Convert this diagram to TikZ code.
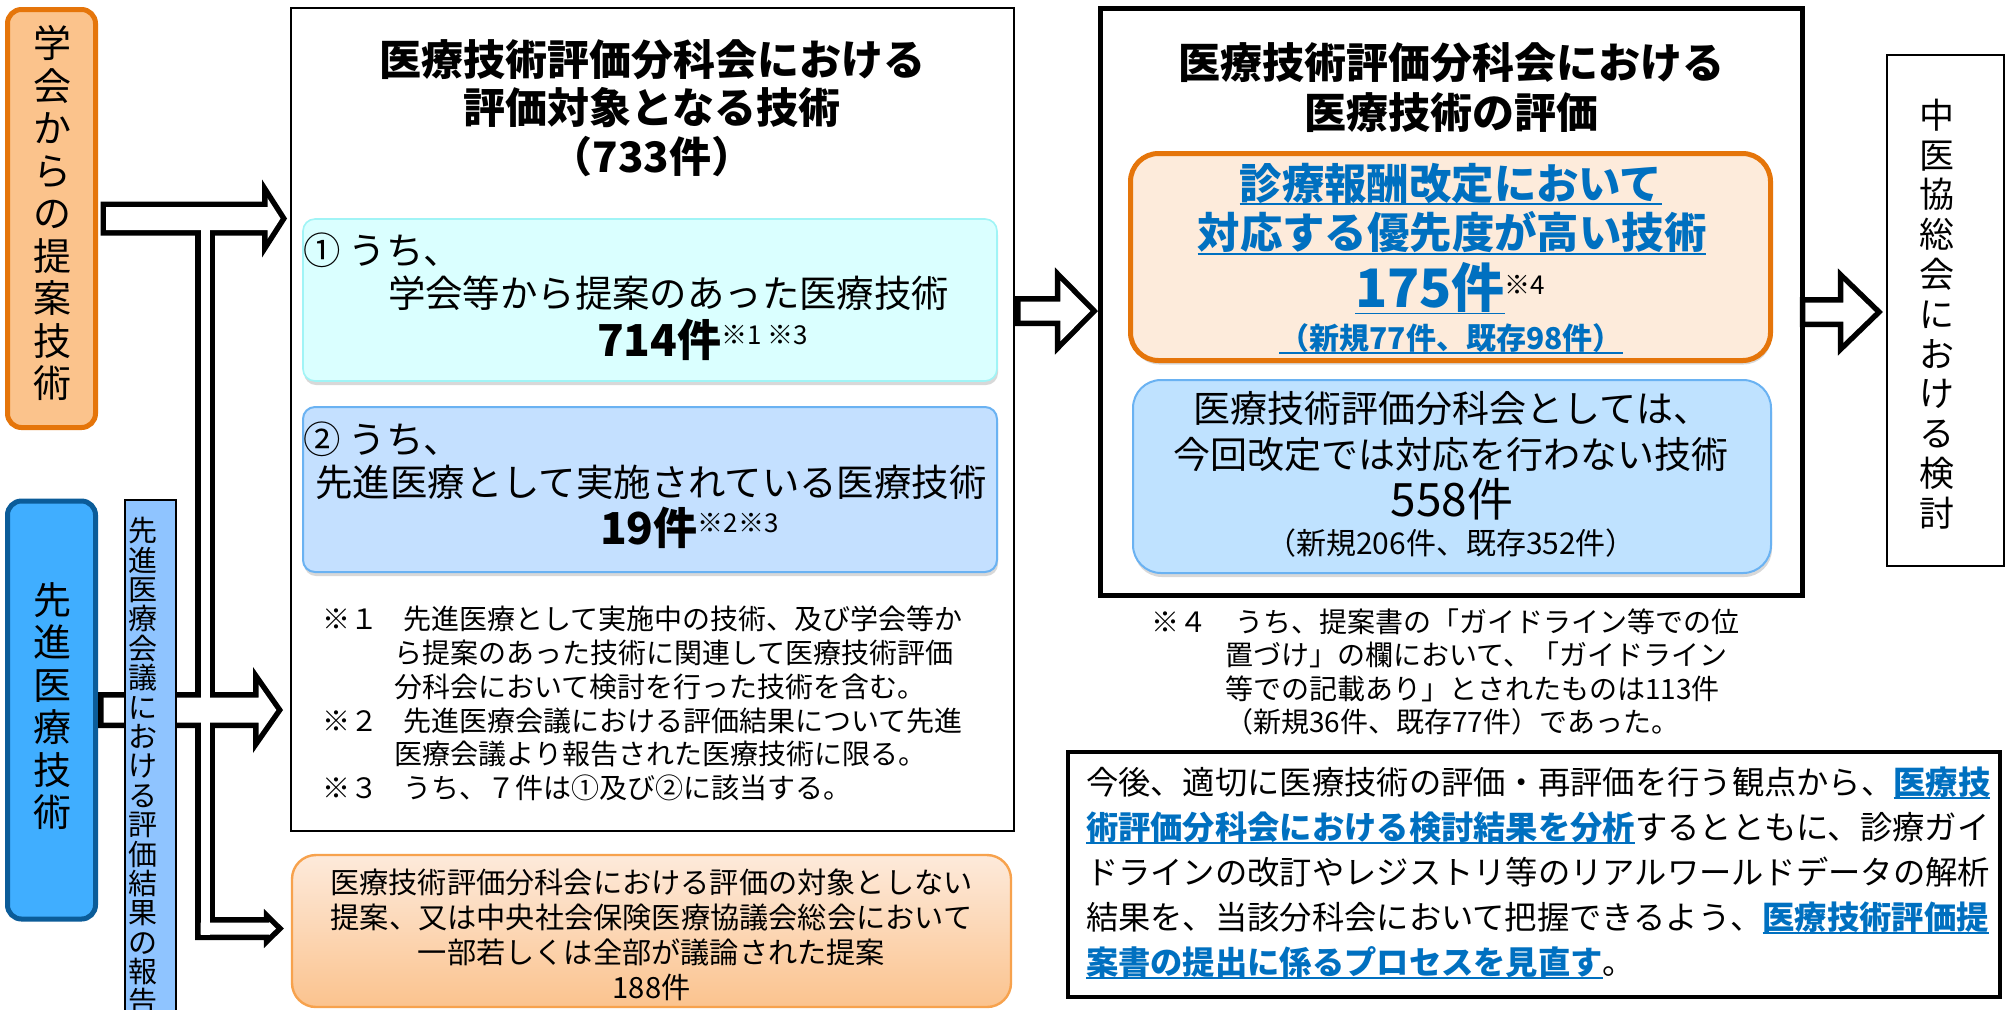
\documentclass[tikz,border=0pt]{standalone}
\usepackage{fontspec}
\setmainfont{Noto Sans CJK JP}
\usetikzlibrary{calc,shadows}

\definecolor{orgfill}{HTML}{FBC38C}
\definecolor{orgline}{HTML}{E5750A}
\definecolor{sinfill}{HTML}{40AEFF}
\definecolor{sinline}{HTML}{0B5C99}
\definecolor{barfill}{HTML}{8FC4FF}
\definecolor{cyfill}{HTML}{DAFFFF}
\definecolor{cyline}{HTML}{A0F4F6}
\definecolor{bfill}{HTML}{C4E0FF}
\definecolor{bline}{HTML}{6AB2F2}
\definecolor{otop}{HTML}{FDEADB}
\definecolor{obot}{HTML}{FBC38E}
\definecolor{oline}{HTML}{F7A24D}
\definecolor{pfill}{HTML}{FDEBDB}
\definecolor{mfill}{HTML}{BFE2FF}
\definecolor{txtblue}{HTML}{0070C0}

\newcommand{\fsz}[2]{\fontsize{#1pt}{#2pt}\selectfont}
\newcommand{\bul}[1]{\setbox0\hbox{#1}\rlap{\rule[-0.14em]{\wd0}{0.9pt}}\box0}
\newcommand{\bluebul}[1]{{\color{txtblue}\bfseries\bul{#1}}}
% block arrow: from, tip, shaft half, head half, head length
\newcommand{\blkarrow}[5]{($(#1)+(0,-#3)$) -- ($(#2)+(-#5,-#3)$) -- ($(#2)+(-#5,-#4)$) -- (#2) -- ($(#2)+(-#5,#4)$) -- ($(#2)+(-#5,#3)$) -- ($(#1)+(0,#3)$) -- cycle}

\tikzset{
  every node/.style={inner sep=0pt, outer sep=0pt},
  srcbox/.style={rounded corners=7pt, line width=2.5pt, minimum width=44pt, minimum height=209pt},
  vtext/.style={align=center, font=\fsz{19}{21.25}},
  boxline/.style={draw, line width=#1},
  softbox/.style={rounded corners=#1, drop shadow={shadow xshift=0.5pt, shadow yshift=-2pt, opacity=0.3}},
  blkline/.style={draw=black, line width=5.5pt},
}

\begin{document}
\begin{tikzpicture}[x=0.5pt, y=-0.5pt]
\useasboundingbox (0,0) rectangle (2007,1009);
\fill[white] (0,0) rectangle (2007,1009);
\clip (0,0) rectangle (2007,1009);

% sources on the left
\node[srcbox, draw=orgline, fill=orgfill] (gakkai) at (51.5,218.5) {};
\node[vtext] (gakkaiT) at (52,213) {学\\会\\か\\ら\\の\\提\\案\\技\\術};
\node[srcbox, draw=sinline, fill=sinfill] (sensin) at (51.5,710) {};
\node[vtext] (sensinT) at (52,706) {先\\進\\医\\療\\技\\術};

% evaluated techniques
\node[boxline=1pt, minimum width=361.5pt, minimum height=411.5pt] (box1) at (652,419.5) {};
\node[font=\fsz{21}{24.25}\bfseries, align=center] (t1) at (652,108) {医療技術評価分科会における\\評価対象となる技術\\（733件）};
\node[softbox=6pt, draw=cyline, line width=0.8pt, fill=cyfill, minimum width=347pt, minimum height=81pt] (k1) at (650,300) {};
\node[anchor=west, font=\fsz{18.7}{22}] (k1a) at (303,250) {① うち、};
\node[anchor=west, font=\fsz{18.7}{22}] (k1b) at (388,293) {学会等から提案のあった医療技術};
\node[anchor=base west] (k1c) at (597,356.7) {{\fsz{22}{26}\bfseries 714件}\raisebox{6.3pt}{\fsz{13}{15}※1 ※3}};
\node[softbox=6pt, draw=bline, line width=1pt, fill=bfill, minimum width=347pt, minimum height=82.5pt] (k2) at (650,489.5) {};
\node[anchor=west, font=\fsz{18.7}{22}] (k2a) at (303,439) {② うち、};
\node[font=\fsz{18.7}{22}] (k2b) at (651,482) {先進医療として実施されている医療技術};
\node[anchor=base west] (k2c) at (600,544.7) {{\fsz{22}{26}\bfseries 19件}\raisebox{6.3pt}{\fsz{13}{15}※2※3}};
\node[anchor=west, font=\fsz{14}{16.9}, align=left] (notes) at (322,703.5) {%
※１\hspace{0.9em}先進医療として実施中の技術、及び学会等か\\
\hspace*{2.6em}ら提案のあった技術に関連して医療技術評価\\
\hspace*{2.6em}分科会において検討を行った技術を含む。\\
※２\hspace{0.9em}先進医療会議における評価結果について先進\\
\hspace*{2.6em}医療会議より報告された医療技術に限る。\\
※３\hspace{0.9em}うち、７件は①及び②に該当する。};

% not evaluated
\node[rounded corners=12pt, draw=oline, line width=1.2pt, top color=otop, bottom color=obot, minimum width=359.5pt, minimum height=76pt] (obox) at (651.5,931) {};
\node[font=\fsz{14.6}{17.6}, align=center] (otxt) at (651.5,935) {医療技術評価分科会における評価の対象としない\\提案、又は中央社会保険医療協議会総会において\\一部若しくは全部が議論された提案\\188件};

% evaluation
\node[boxline=2.5pt, minimum width=351pt, minimum height=293.5pt] (box2) at (1451.25,301.5) {};
\node[font=\fsz{21}{25}\bfseries, align=center] (t2) at (1451,88) {医療技術評価分科会における\\医療技術の評価};
\node[softbox=14pt, draw=orgline, line width=2.5pt, fill=pfill, minimum width=320pt, minimum height=103.5pt] (prio) at (1450.5,257) {};
\node[font=\fsz{21.2}{25}] (p1) at (1451,184) {\bluebul{診療報酬改定において}};
\node[font=\fsz{21.2}{25}] (p2) at (1452,233) {\bluebul{対応する優先度が高い技術}};
\node[anchor=base west] (p3) at (1355,307) {{\fsz{26.5}{30}\bluebul{175件}}\raisebox{6.5pt}{\fsz{13}{15}※4}};
\node[font=\fsz{15}{18}] (p4) at (1451,339) {\bluebul{（新規77件、既存98件）}};
\node[softbox=14pt, draw=bline, line width=1pt, fill=mfill, minimum width=319pt, minimum height=96.5pt] (k558) at (1452,476.5) {};
\node[font=\fsz{18.5}{22}] (m1) at (1452,408) {医療技術評価分科会としては、};
\node[font=\fsz{18.5}{22}] (m2) at (1451,454) {今回改定では対応を行わない技術};
\node[font=\fsz{23}{26}] (m3) at (1452,499) {558件};
\node[font=\fsz{15}{18}] (m4) at (1451,543) {（新規206件、既存352件）};
\node[anchor=west, font=\fsz{14}{16.7}, align=left] (note4) at (1151,672) {%
※４　うち、提案書の「ガイドライン等での位\\
\hspace*{2.65em}置づけ」の欄において、「ガイドライン\\
\hspace*{2.65em}等での記載あり」とされたものは113件\\
\hspace*{2.65em}（新規36件、既存77件）であった。};

% conclusion
\node[boxline=2pt, minimum width=466pt, minimum height=122.5pt] (concl) at (1534,874.5) {};
\node[anchor=west, font=\fsz{16.15}{22.5}, align=left] (conclT) at (1086,873) {%
今後、適切に医療技術の評価・再評価を行う観点から、\bluebul{医療技}\\
\bluebul{術評価分科会における検討結果を分析}するとともに、診療ガイ\\
ドラインの改訂やレジストリ等のリアルワールドデータの解析\\
結果を、当該分科会において把握できるよう、\bluebul{医療技術評価提}\\
\bluebul{案書の提出に係るプロセスを見直す}。};

% chuikyo
\node[boxline=0.75pt, minimum width=58.5pt, minimum height=255.5pt] (chukyo) at (1945.5,310.5) {};
\node[align=center, font=\fsz{17.5}{19.9}] (chukyoT) at (1937,314) {中\\医\\協\\総\\会\\に\\お\\け\\る\\検\\討};

% block arrows
\coordinate (a1s) at ($(gakkai.east)+(10.5,0)$);
\coordinate (a1e) at ($(box1.west |- a1s)+(-10,0)$);
\coordinate (a2s) at ($(sensin.east)+(8,0)$);
\coordinate (a2e) at ($(box1.west |- a2s)+(-14.2,0)$);
\coordinate (a3s) at (200.5,928.5);
\coordinate (a3e) at ($(obox.west |- a3s)+(-16,0)$);
\coordinate (a4s) at ($(box1.east |- 0,311)+(7,0)$);
\coordinate (a4e) at ($(box2.west |- a4s)+(-10,0)$);
\coordinate (a5s) at ($(box2.east |- 0,312)+(3,0)$);
\coordinate (a5e) at ($(chukyo.west |- a5s)+(-12,0)$);

\draw[blkline] \blkarrow{a1s}{a1e}{11.5}{20.3}{13};
\draw[blkline] (200.5,225) rectangle (209.5,934.5);
\draw[blkline] \blkarrow{a3s}{a3e}{6}{6.5}{6.6};
\draw[blkline] \blkarrow{a2s}{a2e}{12.5}{25.5}{17.8};
\draw[blkline] \blkarrow{a4s}{a4e}{9.5}{30.2}{29.8};
\draw[blkline] \blkarrow{a5s}{a5e}{9.5}{30.6}{31.6};
\fill[white] \blkarrow{a1s}{a1e}{11.5}{20.3}{13};
\fill[white] (200.5,225) rectangle (209.5,934.5);
\fill[white] \blkarrow{a3s}{a3e}{6}{6.5}{6.6};
\fill[white] \blkarrow{a2s}{a2e}{12.5}{25.5}{17.8};
\fill[white] \blkarrow{a4s}{a4e}{9.5}{30.2}{29.8};
\fill[white] \blkarrow{a5s}{a5e}{9.5}{30.6}{31.6};

% report bar
\node[draw, fill=barfill, line width=0.6pt, minimum width=25.5pt, minimum height=270pt, anchor=north] (bar) at (150.5,500) {};
\node[align=center, font=\fsz{14.5}{14.7}] (barT) at (143,766) {先\\進\\医\\療\\会\\議\\に\\お\\け\\る\\評\\価\\結\\果\\の\\報\\告};
\end{tikzpicture}
\end{document}
